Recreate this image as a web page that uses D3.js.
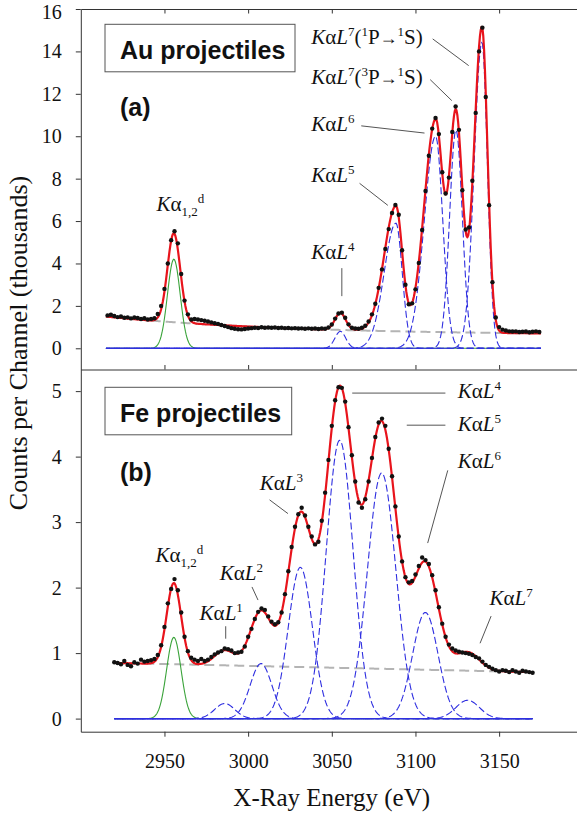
<!DOCTYPE html>
<html>
<head>
<meta charset="utf-8">
<script src="https://cdnjs.cloudflare.com/ajax/libs/d3/7.8.5/d3.min.js"></script>
<style>
    body { margin: 0; background: #fff; }
    svg { display: block; }
</style>
</head>
<body>
<svg id="chart" width="577" height="815"></svg>
<script>
/* K alpha hypersatellite spectra, Au and Fe projectiles - fitted peaks */

// ---- data ----
// (a) Au projectiles: counts per channel (thousands), one dot every 2 eV
const auStart = 2916, auStep = 2;
const auCounts = [
    1.55, 1.58, 1.52, 1.47, 1.50, 1.44, 1.46, 1.41, 1.45, 1.43,
    1.38, 1.42, 1.36, 1.38, 1.42, 1.62, 2.00, 2.80, 4.00, 5.10,
    5.52, 4.95, 3.50, 2.25, 1.60, 1.36, 1.38, 1.36, 1.33, 1.30,
    1.26, 1.22, 1.18, 1.15, 1.10, 1.05, 1.00, 0.95, 0.92, 0.90,
    0.89, 0.91, 0.93, 0.95, 0.97, 0.96, 0.99, 0.97, 0.98, 0.97,
    0.98, 0.96, 0.97, 0.95, 0.96, 0.94, 0.95, 0.93, 0.94, 0.92,
    0.94, 0.92, 0.93, 0.91, 0.93, 0.92, 0.98, 1.12, 1.40, 1.64,
    1.68, 1.44, 1.13, 0.97, 0.93, 0.92, 0.97, 1.06, 1.26, 1.60,
    2.10, 2.85, 3.72, 4.68, 5.62, 6.38, 6.76, 6.30, 4.62, 3.00,
    2.08, 2.12, 2.78, 4.02, 5.58, 7.42, 9.08, 10.36, 10.86, 10.10,
    8.30, 7.30, 8.05, 10.20, 11.40, 10.30, 7.45, 5.60, 5.70, 7.90,
    11.10, 14.00, 15.12, 11.85, 6.75, 3.12, 1.45, 1.00, 0.88, 0.84,
    0.80, 0.79, 0.80, 0.77, 0.78, 0.79, 0.76, 0.78, 0.80, 0.77
];
// fitted peaks: first one is the diagram line (green), the rest are the satellites (blue)
const auCenters = [2955.6, 3055.1, 3088.3, 3112.0, 3124.2, 3139.7];
const auHeights = [4.20, 0.80, 5.90, 10.00, 10.30, 14.43];
const auSigmaL = [3.8, 3.2, 7.0, 6.7, 3.8, 4.6];
const auSigmaR = [3.8, 3.2, 3.8, 4.3, 3.8, 3.3];
const auBackground = [0.62, 0.88, 110];   // offset, amplitude, decay (eV) from 2915 eV
const auSpan = [2915, 3175];

// (b) Fe projectiles
const feStart = 2920, feStep = 2;
const feCounts = [
    0.86, 0.85, 0.83, 0.88, 0.82, 0.80, 0.86, 0.84, 0.90, 0.87,
    0.88, 0.89, 0.91, 0.97, 1.12, 1.40, 1.76, 1.98, 2.13, 1.96,
    1.62, 1.25, 1.03, 0.93, 0.90, 0.88, 0.91, 0.88, 0.90, 0.94,
    0.98, 1.01, 1.03, 1.07, 1.06, 1.04, 1.00, 1.01, 1.02, 1.10,
    1.25, 1.37, 1.52, 1.63, 1.68, 1.66, 1.56, 1.48, 1.44, 1.47,
    1.62, 1.90, 2.25, 2.62, 2.93, 3.12, 3.22, 3.10, 2.93, 2.78,
    2.66, 2.70, 3.02, 3.45, 3.95, 4.47, 4.86, 5.06, 5.05, 4.84,
    4.45, 4.02, 3.62, 3.30, 3.22, 3.35, 3.62, 3.98, 4.30, 4.52,
    4.58, 4.47, 4.12, 3.70, 3.24, 2.78, 2.40, 2.16, 2.08, 2.10,
    2.20, 2.33, 2.46, 2.42, 2.36, 2.19, 1.96, 1.70, 1.45, 1.25,
    1.13, 1.07, 1.04, 1.02, 1.01, 1.00, 0.99, 0.97, 0.94, 0.92,
    0.87, 0.82, 0.79, 0.76, 0.74, 0.72, 0.74, 0.73, 0.71, 0.74,
    0.72, 0.70, 0.73, 0.72, 0.71, 0.70
];
const feCenters = [2955.6, 2986.0, 3007.7, 3031.2, 3054.7, 3079.8, 3105.9, 3131.2];
const feHeights = [1.24, 0.23, 0.84, 2.31, 4.25, 3.75, 1.62, 0.28];
const feSigma = [4.3, 6.0, 6.5, 7.2, 8.0, 8.5, 7.6, 7.0];
const feBackground = [0.85, 0.71];   // linear, value at each end of feSpan
const feSpan = [2920, 3170];

const xTicks = [2950, 3000, 3050, 3100, 3150];
const auYTicks = [0, 2, 4, 6, 8, 10, 12, 14, 16];
const feYTicks = [0, 1, 2, 3, 4, 5];

// ---- drawing ----
const serif = "'Liberation Serif','Times New Roman',serif";
const sans = "'Liberation Sans',Arial,sans-serif";
const svg = d3.select("#chart");
const fmt = d3.format("d");

let x = d3.scaleLinear().domain([2900, 3200]).range([80.8, 582.8]);
let yAu = d3.scaleLinear().domain([-1, 16]).range([369.5, 9]);
let yFe = d3.scaleLinear().domain([-0.2, 5.33]).range([731.7, 369.5]);

// label pieces: [text, kind] with kind i = italic, n = normal, a = arrow, sup / sub
let kaD = [["K", "i"], ["α", "n"], ["1,2", "sub"], ["d", "sup"]];
let kaL = n => [["K", "i"], ["α", "n"], ["L", "i"], [n, "sup"]];
let kaL7 = m => kaL("7").concat([["(", "n"], [m, "sup"], ["P", "n"], ["→", "a"], ["1", "sup"], ["S)", "n"]]);

// label anchors and leader lines, in data units
const auLabels = [
    { parts: kaD, at: [2945.2, 6.48] },
    { parts: kaL("4"), at: [3037.7, 4.19], lead: [[3056.0, 3.78], [3056.0, 2.46]] },
    { parts: kaL("5"), at: [3037.7, 7.84], lead: [[3066.6, 7.78], [3083.5, 6.74]] },
    { parts: kaL("6"), at: [3037.7, 10.27], lead: [[3067.6, 10.49], [3105.4, 10.15]] },
    { parts: kaL7("3"), at: [3037.7, 12.47], lead: [[3108.8, 12.67], [3121.7, 11.68]] },
    { parts: kaL7("1"), at: [3037.7, 14.35], lead: [[3110.3, 14.59], [3131.8, 13.33]] }
];
const feLabels = [
    { parts: kaD, at: [2944.6, 2.39] },
    { parts: kaL("1"), at: [2971.0, 1.51], lead: [[2986.6, 1.41], [2986.6, 1.22]] },
    { parts: kaL("2"), at: [2983.0, 2.115], lead: [[3002.3, 2.01], [3005.9, 1.81]] },
    { parts: kaL("3"), at: [3006.9, 3.49], lead: [[3012.8, 3.34], [3023.8, 3.13]] },
    { parts: kaL("4"), at: [3125.3, 4.89], lead: [[3062.2, 4.97], [3117.9, 4.97]] },
    { parts: kaL("5"), at: [3125.3, 4.39], lead: [[3094.8, 4.48], [3117.9, 4.48]] },
    { parts: kaL("6"), at: [3125.3, 3.82], lead: [[3119.3, 3.79], [3107.3, 2.68]] },
    { parts: kaL("7"), at: [3144.2, 1.73], lead: [[3145.2, 1.565], [3138.6, 1.15]] }
];

let addLabel = function (g, parts, px, py) {
    let t = g.append("text").attr("x", px).attr("y", py)
        .attr("font-family", serif).attr("font-size", 21).attr("fill", "#111");
    let shift = 0;
    parts.forEach(([s, k]) => {
        let target = k == "sup" ? -8 : (k == "sub" ? 5 : 0);
        t.append("tspan")
            .attr("dy", target - shift)
            .attr("font-size", (k == "sup" || k == "sub") ? 13 : (k == "a" ? 18 : 21))
            .attr("font-style", k == "i" ? "italic" : "normal")
            .text(s);
        shift = target;
    });
};

let drawPanel = function (p) {
    let y = p.y;
    let g = svg.append("g");
    let grid = d3.range(p.span[0], p.span[1] + 0.001, 0.5);
    let comp = function (i, e) {
        let d = e - p.centers[i];
        let s = d < 0 ? p.sigL[i] : p.sigR[i];
        return p.heights[i] * Math.exp(-d * d / (2 * s * s));
    };
    let fit = e => p.bg(e) + d3.sum(p.centers, (c, i) => comp(i, e));
    let line = d3.line().x(d => x(d[0])).y(d => y(d[1]));

    // background
    g.append("path").datum(grid.map(e => [e, p.bg(e)]))
        .attr("d", line).attr("fill", "none")
        .attr("stroke", "#b4b4b4").attr("stroke-width", 2)
        .attr("stroke-dasharray", "10,5");

    // components, diagram line first (green)
    p.centers.forEach((c, i) => {
        let path = g.append("path").datum(grid.map(e => [e, comp(i, e)]))
            .attr("d", line).attr("fill", "none").attr("stroke-width", 1.1);
        if (i == 0) path.attr("stroke", "#3aa33a");
        else path.attr("stroke", "#2f2fe0").attr("stroke-dasharray", "7,3")
            .attr("stroke-dashoffset", i * 2.5);
    });

    // total fit
    g.append("path").datum(grid.map(e => [e, fit(e)]))
        .attr("d", line).attr("fill", "none")
        .attr("stroke", "#e8141c").attr("stroke-width", 2.2)
        .attr("stroke-linejoin", "round");

    // measured points
    g.selectAll("circle").data(p.counts).join("circle")
        .attr("cx", (d, i) => x(p.start + i * p.step))
        .attr("cy", d => y(d))
        .attr("r", 2.2).attr("fill", "#111");

    // annotations
    p.labels.forEach(l => {
        if (l.lead) g.append("line")
            .attr("x1", x(l.lead[0][0])).attr("y1", y(l.lead[0][1]))
            .attr("x2", x(l.lead[1][0])).attr("y2", y(l.lead[1][1]))
            .attr("stroke", "#555").attr("stroke-width", 1);
        addLabel(g, l.parts, x(l.at[0]), y(l.at[1]));
    });

    // name box and panel letter
    g.append("rect").attr("x", 105).attr("y", p.box[0])
        .attr("width", p.box[1]).attr("height", 47.5)
        .attr("fill", "#fff").attr("stroke", "#555").attr("stroke-width", 1);
    g.append("text").attr("x", 120).attr("y", p.box[0] + 35)
        .attr("font-family", sans).attr("font-weight", "bold").attr("font-size", 25)
        .attr("fill", "#111").text(p.title);
    g.append("text").attr("x", 120).attr("y", p.letterY)
        .attr("font-family", sans).attr("font-weight", "bold").attr("font-size", 25)
        .attr("fill", "#111").text(p.letter);

    // y axis
    let ax = svg.append("g").attr("class", "axis")
        .attr("transform", "translate(" + x(2900) + ",0)")
        .call(d3.axisLeft(y).tickValues(p.yTicks).tickFormat(fmt)
            .tickSize(5).tickSizeOuter(0).tickPadding(14));
    // the top label sits a little low in the original, clear of the page edge
    ax.selectAll(".tick text").filter(d => d == 16).attr("dy", "0.48em");
};

drawPanel({
    y: yAu, span: auSpan, start: auStart, step: auStep, counts: auCounts,
    centers: auCenters, heights: auHeights, sigL: auSigmaL, sigR: auSigmaR,
    bg: e => auBackground[0] + auBackground[1] * Math.exp(-(e - auSpan[0]) / auBackground[2]),
    labels: auLabels, yTicks: auYTicks,
    title: "Au projectiles", letter: "(a)", box: [24.3, 190], letterY: 116
});
drawPanel({
    y: yFe, span: feSpan, start: feStart, step: feStep, counts: feCounts,
    centers: feCenters, heights: feHeights, sigL: feSigma, sigR: feSigma,
    bg: e => feBackground[0] + (feBackground[1] - feBackground[0]) * (e - feSpan[0]) / (feSpan[1] - feSpan[0]),
    labels: feLabels, yTicks: feYTicks,
    title: "Fe projectiles", letter: "(b)", box: [387.3, 186.7], letterY: 480.5
});

// frame lines with x ticks: top of (a) and its bottom point inwards, (b) bottom outwards
svg.append("g").attr("class", "axis").attr("transform", "translate(0," + yAu.range()[1] + ")")
    .call(d3.axisBottom(x).tickValues(xTicks).tickSize(4.5).tickSizeOuter(0).tickFormat(""));
svg.append("g").attr("class", "axis").attr("transform", "translate(0," + yAu.range()[0] + ")")
    .call(d3.axisTop(x).tickValues(xTicks).tickSize(4.5).tickSizeOuter(0).tickFormat(""));
svg.append("g").attr("class", "axis").attr("transform", "translate(0," + yFe.range()[0] + ")")
    .call(d3.axisBottom(x).tickValues(xTicks).tickFormat(fmt)
        .tickSize(5).tickSizeOuter(0).tickPadding(17));

svg.selectAll(".axis path, .axis line").attr("stroke", "#333").attr("stroke-width", 1);
svg.selectAll(".axis text").attr("font-family", serif).attr("font-size", 20).attr("fill", "#111");

// axis titles
svg.append("text").attr("x", 331.7).attr("y", 806).attr("text-anchor", "middle")
    .attr("font-family", serif).attr("font-size", 25).attr("fill", "#111")
    .text("X-Ray Energy (eV)");
svg.append("text").attr("transform", "translate(27,343) rotate(-90)")
    .attr("text-anchor", "middle")
    .attr("font-family", serif).attr("font-size", 26).attr("fill", "#111")
    .text("Counts per Channel (thousands)");
</script>
</body>
</html>
